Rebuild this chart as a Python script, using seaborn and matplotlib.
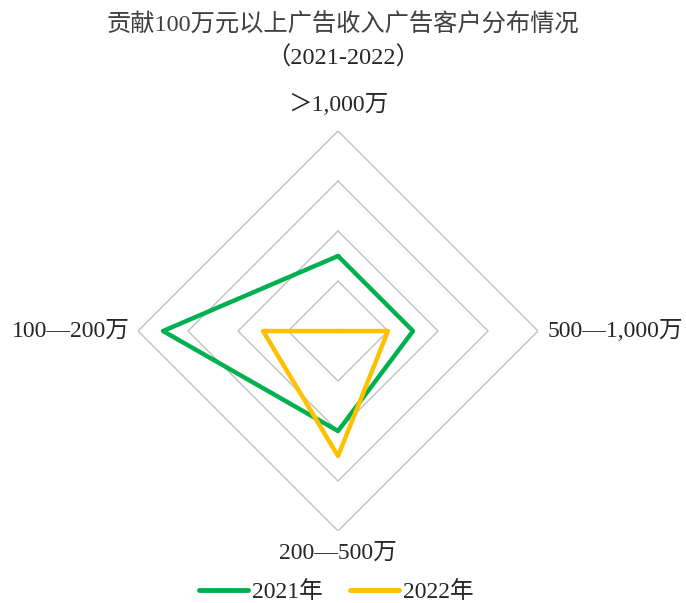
import numpy as np
import pandas as pd
import matplotlib
matplotlib.use("Agg")
import matplotlib.pyplot as plt
import seaborn as sns

# Ad-revenue tiers (clockwise from top) and share values per year
categories = ["＞1,000万", "500—1,000万", "200—500万", "100—200万"]
values_2021 = [15, 15, 20, 35]
values_2022 = [0, 10, 25, 15]
years = ["2021年", "2022年"]
grid_levels = [10, 20, 30, 40]

sns.set_theme(style="white")
plt.rcParams["font.family"] = ["Liberation Serif", "Noto Sans CJK SC", "DejaVu Sans"]

n = len(categories)
angles = np.linspace(0, 2 * np.pi, n, endpoint=False)
closed_angles = np.append(angles, angles[0])

rows = []
for year, vals in zip(years, [values_2021, values_2022]):
    for i, a in enumerate(closed_angles):
        rows.append({"angle": a, "value": vals[i % n], "year": year, "order": i})
df = pd.DataFrame(rows)

fig = plt.figure(figsize=(6.86, 6.03), dpi=100)
ax = fig.add_axes([0.2012, 0.1194, 0.5831, 0.6633], projection="polar")
ax.set_theta_zero_location("N")
ax.set_theta_direction(-1)
ax.set_ylim(0, grid_levels[-1])
ax.grid(False)
ax.spines["polar"].set_visible(False)
ax.set_xticks([])
ax.set_yticks([])
ax.set_facecolor("none")

# Diamond-shaped grid rings
for lv in grid_levels:
    ax.plot(closed_angles, [lv] * len(closed_angles), color="#BFBFBF", lw=1.0, zorder=1)

palette = {"2021年": "#00B050", "2022年": "#FFC000"}
sns.lineplot(data=df, x="angle", y="value", hue="year", palette=palette,
             sort=False, estimator=None, units="year", lw=3.2, ax=ax,
             legend=False, zorder=3)
ax.set_xlabel("")
ax.set_ylabel("")

# Category labels around the chart
label_fs = 17
rmax = grid_levels[-1]
ax.text(angles[0], rmax * 1.13, categories[0], ha="center", va="center", fontsize=label_fs, color="#262626")
ax.text(angles[1], rmax * 1.05, categories[1], ha="left", va="center", fontsize=label_fs, color="#262626")
ax.text(angles[2], rmax * 1.11, categories[2], ha="center", va="center", fontsize=label_fs, color="#262626")
ax.text(angles[3], rmax * 1.04, categories[3], ha="right", va="center", fontsize=label_fs, color="#262626")

fig.text(0.5, 1 - 25 / 603, "贡献100万元以上广告收入广告客户分布情况", ha="center", va="center",
         fontsize=17.5, color="#404040")
fig.text(0.5, 1 - 58 / 603, "（2021-2022）", ha="center", va="center",
         fontsize=17.5, color="#262626")

handles = [plt.Line2D([], [], color=palette[y], lw=3.5, solid_capstyle="round") for y in years]
fig.legend(handles, years, loc="center", bbox_to_anchor=(0.49, 1 - 592 / 603), ncol=2,
           frameon=False, fontsize=17, handlelength=2.1, handletextpad=0.15, columnspacing=1.15)

fig.savefig("out.png", dpi=100, facecolor="white")
